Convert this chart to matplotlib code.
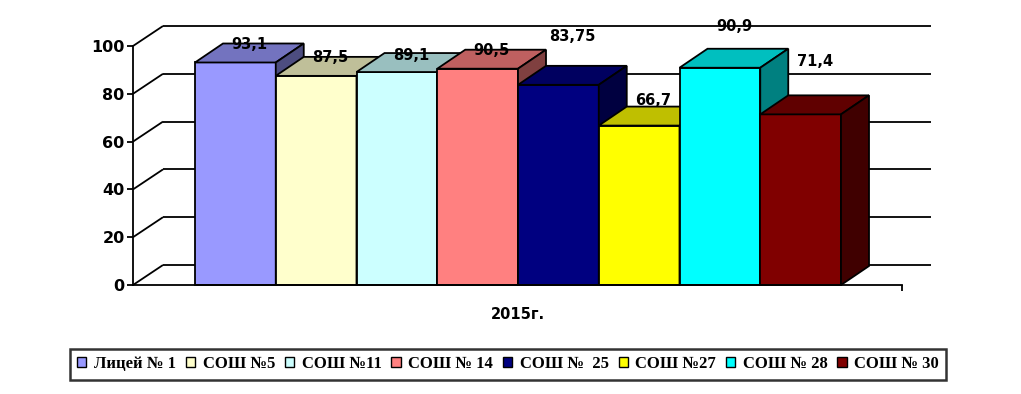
import matplotlib
matplotlib.use('Agg')
import matplotlib.pyplot as plt
from matplotlib.patches import Polygon, Patch
import matplotlib.colors as mcolors

# ---------------- data ----------------
categories = ['Лицей № 1', 'СОШ №5', 'СОШ №11', 'СОШ № 14',
              'СОШ №  25', 'СОШ №27', 'СОШ № 28', 'СОШ № 30']
values = [93.1, 87.5, 89.1, 90.5, 83.75, 66.7, 90.9, 71.4]
group_label = '2015г.'
yticks = [0, 20, 40, 60, 80, 100]

# ---------------- style ----------------
colors = ['#9999FF', '#FFFFCC', '#CCFFFF', '#FF8080',
          '#000080', '#FFFF00', '#00FFFF', '#800000']
label_lift = [7.7, 7.5, 7.1, 7.8, 20.4, 10.7, 17.1, 22.3]  # label offsets (value units)

W, H = 1021, 394
fig = plt.figure(figsize=(W / 100, H / 100), dpi=100)
fig.patch.set_facecolor('white')

# front plane of the plot area (pixels)
px_left, px_right, px_top, px_bottom = 133, 902, 46, 285
bar0_px, bar_px = 195, 80.75          # first bar left edge, bar width in px
ax = fig.add_axes([px_left / W, 1 - px_bottom / H,
                   (px_right - px_left) / W, (px_bottom - px_top) / H])
xmin = -(bar0_px - px_left) / bar_px
xmax = (px_right - bar0_px) / bar_px
ax.set_xlim(xmin, xmax)
ax.set_ylim(0, 100)
ppx = bar_px                      # px per x unit
ppy = (px_bottom - px_top) / 100  # px per y unit

# depth offsets
dxw, dyw = 30 / ppx, 20 / ppy     # wall depth
dxb, dyb = 28 / ppx, 19 / ppy     # bar depth
wall_right = (931 - bar0_px) / ppx

lw = 1.3
# walls / gridlines
for v in yticks:
    ax.plot([xmin, xmin + dxw], [v, v + dyw], color='black', lw=lw,
            clip_on=False, zorder=1, solid_capstyle='butt')
    ax.plot([xmin + dxw, wall_right], [v + dyw, v + dyw], color='black',
            lw=lw, clip_on=False, zorder=1, solid_capstyle='butt')

# bars
x = list(range(len(values)))
bars = ax.bar(x, values, width=1.0, align='edge', color=colors,
              edgecolor='black', linewidth=lw)


def shade(c, f):
    r, g, b = mcolors.to_rgb(c)
    return (r * f, g * f, b * f)


for i, (b, v, c) in enumerate(zip(bars, values, colors)):
    z = 3 + i
    b.set_zorder(z)
    b.set_clip_on(False)
    x0 = b.get_x()
    x1 = x0 + b.get_width()
    top = Polygon([(x0, v), (x1, v), (x1 + dxb, v + dyb), (x0 + dxb, v + dyb)],
                  closed=True, facecolor=shade(c, 0.75), edgecolor='black',
                  linewidth=lw, zorder=z, clip_on=False, joinstyle='miter')
    side = Polygon([(x1, 0), (x1 + dxb, dyb), (x1 + dxb, v + dyb), (x1, v)],
                   closed=True, facecolor=shade(c, 0.5), edgecolor='black',
                   linewidth=lw, zorder=z, clip_on=False, joinstyle='miter')
    ax.add_patch(top)
    ax.add_patch(side)
    ax.text(x0 + 0.5 + dxb / 2, v + label_lift[i],
            f'{v:g}'.replace('.', ','), ha='center', va='center',
            fontsize=10.5, fontweight='bold', color='black', zorder=30,
            clip_on=False, family='DejaVu Sans')

# axes styling
for s in ['top', 'right']:
    ax.spines[s].set_visible(False)
for s in ['left', 'bottom']:
    ax.spines[s].set_linewidth(lw)
    ax.spines[s].set_zorder(20)
ax.set_facecolor('none')
ax.set_yticks(yticks)
ax.set_yticklabels([str(t) for t in yticks], fontsize=11.5, fontweight='bold')
ax.tick_params(axis='y', direction='out', length=4, width=lw, pad=2)
ax.set_xticks([len(values) / 2])
ax.set_xticklabels([group_label], fontsize=10.5, fontweight='bold')
ax.tick_params(axis='x', which='major', length=0, pad=16)
ax.set_xticks([xmax], minor=True)
ax.tick_params(axis='x', which='minor', direction='out', length=4, width=lw)

# legend
handles = [Patch(facecolor=c, edgecolor='black', linewidth=1) for c in colors]
leg = fig.legend(handles, categories, ncol=len(categories), loc='center',
                 bbox_to_anchor=(508 / W, 1 - 364 / H), frameon=True,
                 fancybox=False, edgecolor='black',
                 prop={'family': 'Liberation Serif', 'weight': 'bold', 'size': 12},
                 handlelength=0.55, handleheight=0.6, handletextpad=0.45,
                 columnspacing=0.6, borderpad=0.45)
leg.get_frame().set_linewidth(1.8)

fig.savefig('out.png', dpi=100, facecolor='white')
